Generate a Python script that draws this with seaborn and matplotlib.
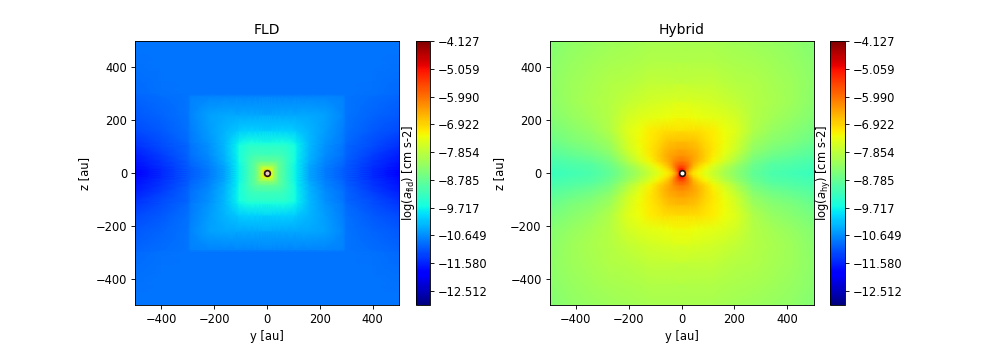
import numpy as np
import matplotlib
matplotlib.use('Agg')
import matplotlib.pyplot as plt
import seaborn as sns

vmin = -12.98
vmax = -4.127
cbar_ticks = [-4.127, -5.059, -5.990, -6.922, -7.854, -8.785, -9.717, -10.649, -11.580, -12.512]
axis_ticks = [-400, -200, 0, 200, 400]

# quadrant values (y >= 0, z >= 0), rows are z, columns are y
fld_nodes = [0, 8, 16, 28, 45, 70, 105, 115, 160, 220, 290, 300, 400, 500]
fld_quadrant = [
    [-5.0, -6.3, -7.5, -8.2, -8.8, -9.2, -9.7, -9.85, -10.45, -10.8, -11.05, -11.1, -11.5, -11.9],
    [-6.3, -6.5, -7.5, -8.2, -8.8, -9.2, -9.7, -9.85, -10.45, -10.8, -11.05, -11.1, -11.5, -11.85],
    [-7.5, -7.5, -7.6, -8.2, -8.8, -9.2, -9.7, -9.85, -10.45, -10.8, -11.05, -11.1, -11.5, -11.8],
    [-8.2, -8.2, -8.2, -8.3, -8.8, -9.2, -9.7, -9.85, -10.4, -10.75, -11.0, -11.08, -11.45, -11.75],
    [-8.8, -8.8, -8.8, -8.8, -8.9, -9.2, -9.65, -9.85, -10.35, -10.7, -10.95, -11.05, -11.4, -11.7],
    [-9.2, -9.2, -9.2, -9.2, -9.2, -9.3, -9.6, -9.8, -10.3, -10.65, -10.9, -11.0, -11.35, -11.6],
    [-9.45, -9.45, -9.45, -9.45, -9.45, -9.45, -9.65, -9.8, -10.25, -10.6, -10.85, -10.98, -11.2, -11.45],
    [-9.6, -9.6, -9.6, -9.6, -9.6, -9.6, -9.75, -9.85, -10.25, -10.58, -10.82, -10.96, -11.2, -11.4],
    [-10.05, -10.05, -10.05, -10.05, -10.05, -10.05, -10.1, -10.15, -10.3, -10.5, -10.77, -10.9, -11.1, -11.25],
    [-10.4, -10.4, -10.4, -10.4, -10.4, -10.4, -10.4, -10.4, -10.42, -10.47, -10.7, -10.85, -11.0, -11.1],
    [-10.72, -10.72, -10.72, -10.72, -10.72, -10.72, -10.72, -10.72, -10.72, -10.72, -10.74, -10.85, -10.92, -10.98],
    [-10.85, -10.85, -10.85, -10.85, -10.85, -10.85, -10.85, -10.85, -10.85, -10.85, -10.85, -10.85, -10.9, -10.95],
    [-10.87, -10.87, -10.87, -10.87, -10.87, -10.87, -10.87, -10.87, -10.87, -10.87, -10.87, -10.87, -10.87, -10.9],
    [-10.87, -10.87, -10.87, -10.87, -10.87, -10.87, -10.87, -10.87, -10.87, -10.87, -10.87, -10.87, -10.87, -10.87],
]

hy_nodes = [0, 6, 12, 20, 30, 45, 65, 90, 120, 160, 210, 270, 340, 420, 500]
hy_quadrant = [
    [-4.2, -5.0, -5.7, -6.3, -6.7, -7.05, -7.25, -7.45, -7.7, -8.05, -8.4, -8.8, -9.05, -9.15, -9.25],
    [-4.6, -5.0, -5.6, -6.2, -6.6, -7.0, -7.2, -7.45, -7.7, -8.05, -8.4, -8.8, -9.05, -9.15, -9.25],
    [-5.0, -5.15, -5.5, -6.0, -6.45, -6.9, -7.15, -7.4, -7.65, -8.0, -8.37, -8.78, -9.03, -9.13, -9.23],
    [-5.4, -5.45, -5.6, -5.9, -6.3, -6.75, -7.05, -7.3, -7.6, -7.95, -8.33, -8.75, -9.0, -9.1, -9.2],
    [-5.7, -5.72, -5.8, -5.95, -6.2, -6.6, -6.9, -7.2, -7.5, -7.85, -8.25, -8.7, -8.98, -9.07, -9.17],
    [-6.05, -6.05, -6.1, -6.15, -6.25, -6.5, -6.7, -6.95, -7.25, -7.6, -8.05, -8.6, -8.85, -8.97, -9.1],
    [-6.3, -6.3, -6.32, -6.35, -6.4, -6.45, -6.62, -6.88, -7.15, -7.45, -7.9, -8.47, -8.72, -8.85, -9.0],
    [-6.5, -6.5, -6.5, -6.52, -6.55, -6.6, -6.72, -6.9, -7.1, -7.35, -7.72, -8.3, -8.55, -8.7, -8.88],
    [-6.7, -6.7, -6.7, -6.72, -6.75, -6.75, -6.85, -6.98, -7.12, -7.3, -7.62, -8.15, -8.4, -8.55, -8.75],
    [-7.0, -7.0, -7.0, -7.0, -7.0, -7.0, -7.02, -7.08, -7.15, -7.32, -7.55, -8.0, -8.25, -8.42, -8.6],
    [-7.3, -7.3, -7.3, -7.3, -7.3, -7.32, -7.35, -7.38, -7.42, -7.5, -7.65, -7.95, -8.12, -8.28, -8.47],
    [-7.55, -7.55, -7.55, -7.55, -7.55, -7.57, -7.58, -7.6, -7.62, -7.7, -7.8, -7.95, -8.05, -8.2, -8.4],
    [-7.8, -7.8, -7.8, -7.8, -7.8, -7.8, -7.8, -7.8, -7.82, -7.88, -7.95, -8.0, -8.08, -8.2, -8.38],
    [-8.0, -8.0, -8.0, -8.0, -8.0, -8.0, -8.0, -8.0, -8.0, -8.03, -8.05, -8.1, -8.15, -8.25, -8.4],
    [-8.1, -8.1, -8.1, -8.1, -8.1, -8.1, -8.1, -8.1, -8.1, -8.12, -8.15, -8.2, -8.25, -8.32, -8.45],
]


def mirror(quadrant):
    q = np.array(quadrant)
    top = np.hstack([q[:, :0:-1], q])
    return np.vstack([top[:0:-1], top])


def draw_panel(ax, cax, nodes, quadrant, title, cbar_label, dot_face, label_x):
    coords = np.array([-n for n in nodes[:0:-1]] + nodes, dtype=float)
    idx = np.arange(len(coords), dtype=float)
    sns.heatmap(mirror(quadrant), ax=ax, cbar_ax=cax, cmap='jet', vmin=vmin, vmax=vmax,
                shading='gouraud', xticklabels=False, yticklabels=False,
                cbar_kws={'ticks': cbar_ticks})
    # cell index -> au, so the uneven grid lands in the right place
    funcs = (lambda i: np.interp(i, idx, coords), lambda c: np.interp(c, coords, idx))
    ax.set_xscale('function', functions=funcs)
    ax.set_yscale('function', functions=funcs)
    ax.set_xlim(0, idx[-1])
    ax.set_ylim(0, idx[-1])
    tick_pos = np.interp(axis_ticks, coords, idx)
    tick_txt = [str(t).replace('-', '\u2212') for t in axis_ticks]
    ax.set_xticks(tick_pos, tick_txt, rotation=0)
    ax.set_yticks(tick_pos, tick_txt, rotation=0)
    ax.tick_params(left=True, bottom=True, length=3.5, width=0.8, labelsize=10.4)
    for s in ax.spines.values():
        s.set_visible(True)
        s.set_linewidth(0.8)
    ax.set_title(title, fontsize=12.5)
    ax.set_xlabel('y [au]', fontsize=10.4)
    ax.set_ylabel('z [au]', fontsize=10.4)
    ax.scatter([idx[len(idx) // 2]], [idx[len(idx) // 2]], s=26, facecolor=dot_face,
               edgecolor='#201010', linewidth=1.5, zorder=5, clip_on=False)

    cb = ax.collections[0].colorbar
    cb.outline.set_linewidth(0.8)
    cb.set_ticklabels([('%.3f' % t).replace('-', '\u2212') for t in cbar_ticks])
    cax.tick_params(length=3.5, width=0.8, labelsize=10.4)
    cax.yaxis.set_ticks_position('right')
    cb.set_label(cbar_label, fontsize=10.4)
    cax.yaxis.set_label_position('left')
    cax.yaxis.label.set_va('center')
    cax.yaxis.set_label_coords(label_x, 0.5)


W, H = 981, 343
DPI = 80
fig = plt.figure(figsize=(W / DPI, H / DPI), dpi=DPI)
box = lambda l, r, t, b: [l / W, (H - b) / H, (r - l) / W, (b - t) / H]
ax1 = fig.add_axes(box(135, 399, 41, 305))
cax1 = fig.add_axes(box(416, 430, 41, 305))
ax2 = fig.add_axes(box(549.5, 813.5, 41, 305))
cax2 = fig.add_axes(box(830, 845, 41, 305))

draw_panel(ax1, cax1, fld_nodes, fld_quadrant, 'FLD', r'log($a_{\mathrm{fld}}$) [cm s-2]', '#e8c8c0', -0.57)
draw_panel(ax2, cax2, hy_nodes, hy_quadrant, 'Hybrid', r'log($a_{\mathrm{hy}}$) [cm s-2]', 'white', -0.37)

fig.savefig('out.png', dpi=DPI)
